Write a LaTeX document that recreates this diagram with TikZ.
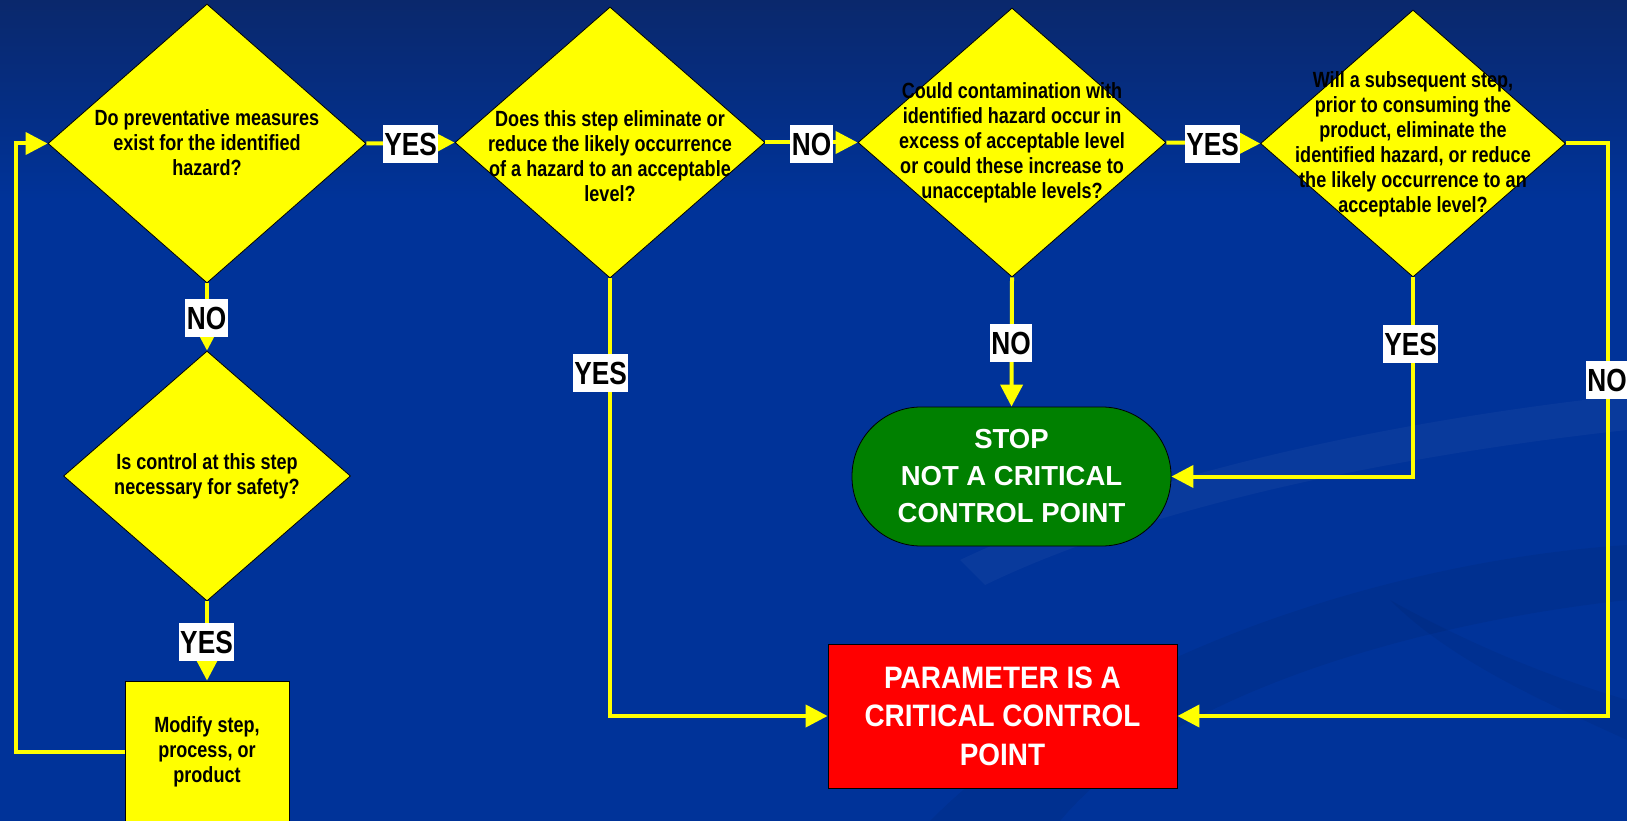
\documentclass[tikz,border=0pt]{standalone}
\usepackage{fontspec}
\setmainfont{Liberation Sans}
\newfontfamily\narfont[FakeStretch=0.82]{Liberation Sans}
\newfontfamily\midnarfont[FakeStretch=0.9]{Liberation Sans}
\usetikzlibrary{shapes.geometric,arrows.meta,calc}
\definecolor{bgblue}{RGB}{0,51,153}
\definecolor{topblue}{RGB}{10,40,108}
\definecolor{ylw}{RGB}{255,255,0}
\definecolor{grn}{RGB}{0,128,0}
\definecolor{rd}{RGB}{255,0,0}
\begin{document}
\begin{tikzpicture}[x=1pt,y=-1pt,
  dia/.style={diamond, aspect=1, fill=ylw, draw=black, line width=0.8pt, inner sep=0pt},
  dtext/.style={align=center, font=\narfont\bfseries\fontsize{22}{25}\selectfont, text=black, inner sep=0pt},
  conn/.style={draw=ylw, line width=4pt, -{Triangle[length=22pt,width=22pt]}},
  lbl/.style={fill=white, font=\narfont\bfseries\fontsize{32}{32}\selectfont, text=black,
              inner xsep=1.5pt, inner ysep=7.5pt, text height=23pt, text depth=0pt},
  modbox/.style={rectangle, fill=ylw, draw=black, line width=0.8pt, minimum width=164pt, minimum height=142pt,
              align=center, font=\narfont\bfseries\fontsize{22}{25}\selectfont},
  stopbox/.style={rectangle, rounded corners=69pt, fill=grn, draw=black, line width=0.8pt,
              minimum width=319pt, minimum height=139pt, align=center, text=white,
              font=\bfseries\fontsize{27.5}{37}\selectfont},
  ccpbox/.style={rectangle, fill=rd, draw=black, line width=0.8pt, minimum width=349pt, minimum height=144pt,
              align=center, text=white, font=\midnarfont\bfseries\fontsize{31}{38.5}\selectfont}
]
\useasboundingbox (0,0) rectangle (1627,821);
% background
\fill[bgblue] (0,0) rectangle (1627,821);
\shade[top color=topblue, bottom color=bgblue] (0,0) rectangle (1627,200);
\fill[white, opacity=0.035] (960,560) .. controls (1150,470) and (1400,420) .. (1627,395) -- (1627,430) .. controls (1400,455) and (1150,505) .. (985,585) -- cycle;
\fill[black, opacity=0.06] (930,821) .. controls (1100,650) and (1400,560) .. (1627,545) -- (1627,600) .. controls (1400,625) and (1160,700) .. (1060,821) -- cycle;
\fill[black, opacity=0.05] (1390,600) .. controls (1480,650) and (1560,680) .. (1627,700) -- (1627,740) .. controls (1540,700) and (1450,660) .. (1390,600) -- cycle;

% decisions
\node[dia, minimum width=318pt, minimum height=279pt] (d1) at (207,143.5) {};
\node[dia, minimum width=310pt, minimum height=271pt] (d2) at (610,142.5) {};
\node[dia, minimum width=308pt, minimum height=269pt] (d3) at (1012,142.5) {};
\node[dia, minimum width=305pt, minimum height=267pt] (d4) at (1413,143.5) {};
\node[dia, minimum width=287pt, minimum height=250pt] (d5) at (207,476) {};

\node[dtext] (t1) at (207,143) {Do preventative measures\\exist for the identified\\hazard?};
\node[dtext] (t2) at (610,156) {Does this step eliminate or\\reduce the likely occurrence\\of a hazard to an acceptable\\level?};
\node[dtext] (t3) at (1012,143) {Could contamination with\\identified hazard occur in\\excess of acceptable level\\or could these increase to\\unacceptable levels?};
\node[dtext] (t4) at (1413,144) {Will a subsequent step,\\prior to consuming the\\product, eliminate the\\identified hazard, or reduce\\the likely occurrence to an\\acceptable level?};
\node[dtext] (t5) at (207,476) {Is control at this step\\necessary for safety?};

% boxes
\node[modbox] (mod) at (207,752) {Modify step,\\process, or\\product};
\node[stopbox] (stop) at (1011.5,476.5) {STOP\\NOT A CRITICAL\\CONTROL POINT};
\node[ccpbox] (ccp) at (1002.5,716) {PARAMETER IS A\\CRITICAL CONTROL\\POINT};

% connectors
\coordinate (lc) at (16,143.5);
\coordinate (rc) at (1608,143.5);
\draw[conn] (mod.west) -| (lc) -- (d1.west);
\draw[conn] (d1.east) -- (d2.west);
\draw[conn] (d2.east) -- (d3.west);
\draw[conn] (d3.east) -- (d4.west);
\draw[conn] (d1.south) -- (d5.north);
\draw[conn] (d5.south) -- (mod.north);
\draw[conn] (d2.south) |- (ccp.west);
\draw[conn] (d3.south) -- (stop.north);
\draw[conn] (d4.south) |- (stop.east);
\draw[conn] (d4.east) -- (rc) |- (ccp.east);

% labels
\node[lbl] (l1) at (410.5,144) {YES};
\node[lbl] (l2) at (811.5,144) {NO};
\node[lbl] (l3) at (1212.5,144) {YES};
\node[lbl] (l4) at (206.5,317.5) {NO};
\node[lbl] (l5) at (206.5,641.5) {YES};
\node[lbl] (l6) at (600.5,372.5) {YES};
\node[lbl] (l7) at (1011,343) {NO};
\node[lbl] (l8) at (1410.5,344) {YES};
\node[lbl] (l9) at (1607,380) {NO};
\end{tikzpicture}
\end{document}
